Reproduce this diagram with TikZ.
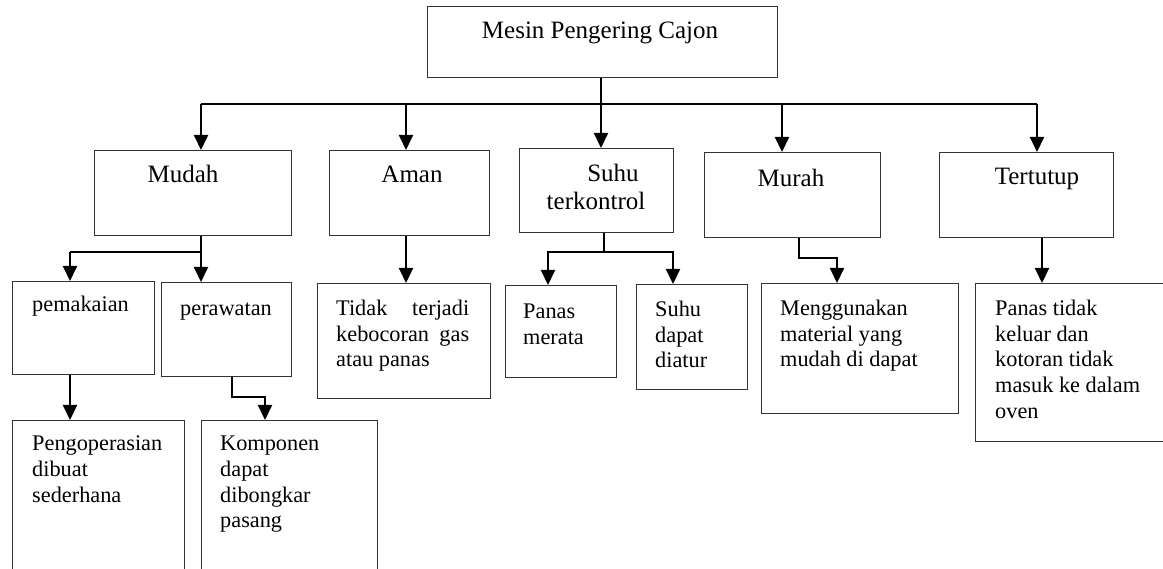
\documentclass[tikz,border=0pt]{standalone}
\usepackage{fontspec}
\setmainfont{Liberation Serif}
\usetikzlibrary{arrows.meta}
\newcommand\LabBig{\fontsize{25}{29}\selectfont}
\newcommand\LabSmall{\fontsize{22.3}{25.6}\selectfont}
\tikzset{
  box/.style={draw=black!80, line width=0.9pt, inner sep=0pt, anchor=north west, fill=none},
  conn/.style={line width=2pt, line join=miter},
  arr/.style={conn, -{Triangle[length=15pt,width=14pt]}},
  big/.style={font=\LabBig, inner sep=0pt, anchor=base},
  small/.style={font=\LabSmall, inner sep=0pt, anchor=base west},
  multi/.style={font=\LabSmall, inner sep=0pt, anchor=north west, align=left},
}
\begin{document}
\begin{tikzpicture}[x=1pt,y=-1pt]
\useasboundingbox (0,0) rectangle (1163,569);
\clip (0,0) rectangle (1163,569);
\fill[white] (0,0) rectangle (1163,569);

% boxes
\node[box, minimum width=350pt, minimum height=71pt] (root) at (427,6) {};
\node[box, minimum width=197pt, minimum height=85pt] (mudah) at (94,150) {};
\node[box, minimum width=160pt, minimum height=85pt] (aman) at (329,150) {};
\node[box, minimum width=154pt, minimum height=84pt] (suhu) at (519,148) {};
\node[box, minimum width=176pt, minimum height=85pt] (murah) at (704,152) {};
\node[box, minimum width=174pt, minimum height=85pt] (tertutup) at (939,152) {};
\node[box, minimum width=142pt, minimum height=93pt] (pemakaian) at (12,281) {};
\node[box, minimum width=130pt, minimum height=94pt] (perawatan) at (161,282) {};
\node[box, minimum width=173pt, minimum height=115pt] (tidak) at (317,283) {};
\node[box, minimum width=111pt, minimum height=92pt] (panasm) at (505,285) {};
\node[box, minimum width=111pt, minimum height=105pt] (suhud) at (636,284) {};
\node[box, minimum width=197pt, minimum height=130pt] (mengg) at (761,283) {};
\node[box, minimum width=210pt, minimum height=158pt] (panast) at (975,283) {};
\node[box, minimum width=172pt, minimum height=170pt] (pengop) at (12,420) {};
\node[box, minimum width=176pt, minimum height=170pt] (komponen) at (201,420) {};

% texts
\node[big] (t-root) at (600,39) {Mesin Pengering Cajon};
\node[big] (t-mudah) at (183,183) {Mudah};
\node[big] (t-aman) at (412,183) {Aman};
\node[big] (t-suhu1) at (613,182) {Suhu};
\node[big] (t-suhu2) at (596,210) {terkontrol};
\node[big] (t-murah) at (791,187) {Murah};
\node[big] (t-tertutup) at (1037,185) {Tertutup};
\node[small] (t-pemakaian) at (32,312) {pemakaian};
\node[small] (t-perawatan) at (180,316) {perawatan};
\node[multi] (t-tidak) at (336,300) {\makebox[133pt][s]{Tidak terjadi}\\\makebox[133pt][s]{kebocoran gas}\\atau panas};
\node[multi] (t-panasm) at (523,304) {Panas\\merata};
\node[multi] (t-suhud) at (655,301) {Suhu\\dapat\\diatur};
\node[multi] (t-mengg) at (780,300) {Menggunakan\\material yang\\mudah di dapat};
\node[multi] (t-panast) at (995,300) {Panas tidak\\keluar dan\\kotoran tidak\\masuk ke dalam\\oven};
\node[multi] (t-pengop) at (32,436) {Pengoperasian\\dibuat\\sederhana};
\node[multi] (t-komponen) at (220,436) {Komponen\\dapat\\dibongkar\\pasang};

% junction coordinates
\coordinate (b0) at (601,104);
\coordinate (bl) at (201,104);
\coordinate (ba) at (406,104);
\coordinate (bm) at (782,104);
\coordinate (br) at (1037,104);
\coordinate (m1) at (201,252);
\coordinate (m1l) at (70,252);
\coordinate (p1) at (232,397);
\coordinate (p2) at (265,397);
\coordinate (s1) at (604,252);
\coordinate (s1l) at (548,252);
\coordinate (s1r) at (673,252);
\coordinate (u1) at (799,258);
\coordinate (u2) at (837,258);
\coordinate (t1) at (1042,260);

% level 1
\draw[conn] (root.south -| b0) -- (b0);
\draw[conn] (bl) -- (br);
\draw[arr] (bl) -- (bl |- mudah.north);
\draw[arr] (ba) -- (ba |- aman.north);
\draw[arr] (b0) -- (b0 |- suhu.north);
\draw[arr] (bm) -- (bm |- murah.north);
\draw[arr] (br) -- (br |- tertutup.north);

% Mudah
\draw[conn] (mudah.south -| m1) -- (m1) -- (m1l);
\draw[arr] (m1l) -- (m1l |- pemakaian.north);
\draw[arr] (m1) -- (m1 |- perawatan.north);
\draw[arr] (pemakaian.south -| m1l) -- (m1l |- pengop.north);
\draw[arr] (perawatan.south -| p1) -- (p1) -- (p2) -- (p2 |- komponen.north);

% Aman
\draw[arr] (aman.south -| ba) -- (ba |- tidak.north);

% Suhu
\draw[arr] (suhu.south -| s1) -- (s1) -- (s1l) -- (s1l |- panasm.north);
\draw[arr] (s1) -- (s1r) -- (s1r |- suhud.north);

% Murah
\draw[arr] (murah.south -| u1) -- (u1) -- (u2) -- (u2 |- mengg.north);

% Tertutup
\draw[arr] (tertutup.south -| t1) -- (t1 |- panast.north);
\end{tikzpicture}
\end{document}
